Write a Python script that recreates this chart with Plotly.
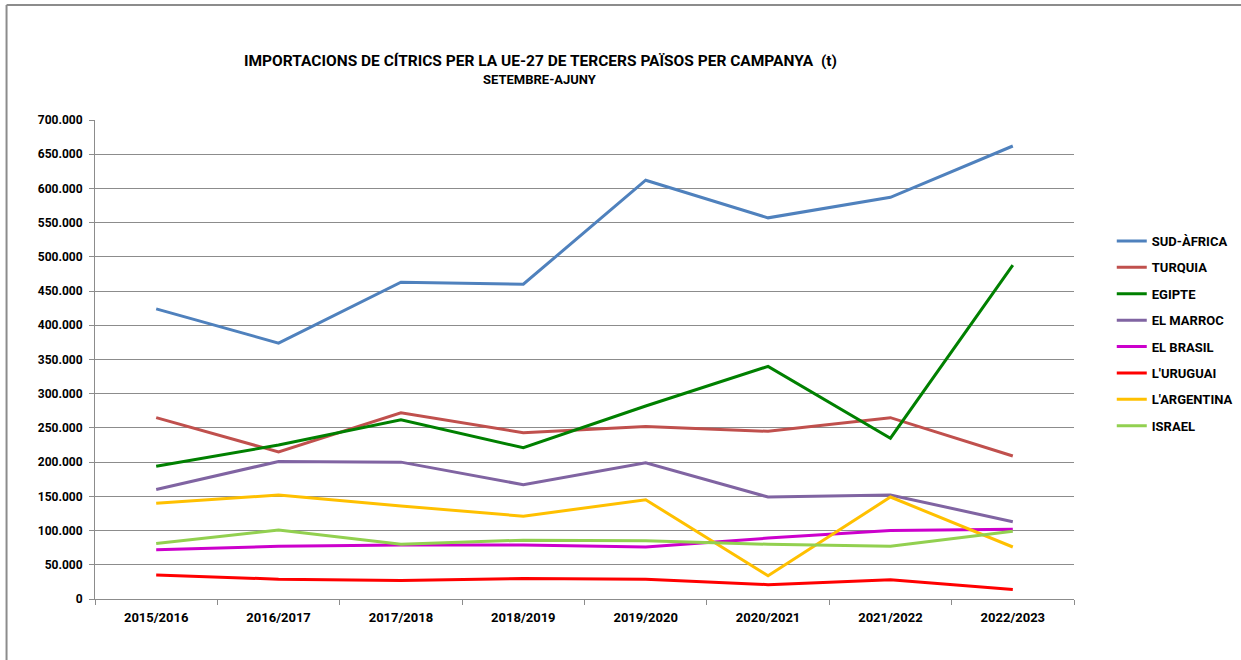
import plotly.graph_objects as go

# Campaigns (September-June)
campanyes = ['2015/2016', '2016/2017', '2017/2018', '2018/2019',
             '2019/2020', '2020/2021', '2021/2022', '2022/2023']

# Imports in tonnes
sud_africa = [424000, 374000, 463000, 460000, 612000, 557000, 587000, 662000]
turquia = [265000, 215000, 272000, 243000, 252000, 245000, 265000, 209000]
egipte = [194000, 225000, 262000, 221000, 282000, 340000, 235000, 488000]
el_marroc = [160000, 201000, 200000, 167000, 199000, 149000, 152000, 113000]
el_brasil = [72000, 77000, 79000, 79000, 76000, 89000, 100000, 102000]
l_uruguai = [35000, 29000, 27000, 30000, 29000, 21000, 28000, 14000]
l_argentina = [140000, 152000, 136000, 121000, 145000, 34000, 149000, 76000]
israel = [81000, 101000, 80000, 86000, 85000, 80000, 77000, 99000]

series = [
    ('SUD-ÀFRICA', sud_africa, '#4F81BD'),
    ('TURQUIA', turquia, '#C0504D'),
    ('EGIPTE', egipte, '#008000'),
    ('EL MARROC', el_marroc, '#8064A2'),
    ('EL BRASIL', el_brasil, '#CC00CC'),
    ("L'URUGUAI", l_uruguai, '#FF0000'),
    ("L'ARGENTINA", l_argentina, '#FFC000'),
    ('ISRAEL', israel, '#92D050'),
]

font_family = 'Liberation Sans Narrow, Arial Narrow, Roboto, sans-serif'

# plot area in pixels
L, R, T, B = 95, 1080, 120, 599
W = R - L
H = B - T


def px(x):
    return (x - L) / W


def py(y):
    return (B - y) / H


fig = go.Figure()
for name, vals, color in series:
    fig.add_trace(go.Scatter(
        x=campanyes, y=vals, name='<b>' + name + '</b>', mode='lines',
        line=dict(color=color, width=3),
        legendgroup=name,
    ))

# Title
fig.add_annotation(
    x=px(543), y=py(50), xref='paper', yref='paper',
    text='<b>IMPORTACIONS DE CÍTRICS PER LA UE-27 DE TERCERS PAÏSOS PER CAMPANYA  (t)</b>',
    showarrow=False, font=dict(size=15.5, color='black', family=font_family),
)
fig.add_annotation(
    x=px(543), y=py(70), xref='paper', yref='paper',
    text='<b>SETEMBRE-AJUNY</b>',
    showarrow=False, font=dict(size=13, color='black', family=font_family),
)

# Outer frame (top and left edges)
fig.add_shape(type='line', xref='paper', yref='paper',
              x0=px(6), x1=px(1260), y0=py(5), y1=py(5),
              line=dict(color='#8c8c8c', width=2))
fig.add_shape(type='line', xref='paper', yref='paper',
              x0=px(6), x1=px(6), y0=py(5), y1=py(662),
              line=dict(color='#8c8c8c', width=2))

fig.update_layout(
    width=1250, height=660,
    margin=dict(l=L, r=1250 - R, t=T, b=660 - B),
    plot_bgcolor='white', paper_bgcolor='white',
    separators=',.',
    font=dict(family=font_family, color='black'),
    showlegend=True,
    legend=dict(
        x=px(1118), y=py(226), xanchor='left', yanchor='top',
        font=dict(size=13, family=font_family, color='black'),
        tracegroupgap=6.5, itemwidth=30,
    ),
    xaxis=dict(
        type='category', range=[-0.5, 7.5], tickson='boundaries',
        ticks='outside', ticklen=5,
        tickcolor='#8c8c8c', showline=True, linecolor='#8c8c8c', linewidth=1,
        showgrid=False, tickfont=dict(size=13, family=font_family),
        ticklabelstandoff=6, tickprefix='<b>', ticksuffix='</b>',
    ),
    yaxis=dict(
        range=[0, 700000], dtick=50000, tickformat=',d',
        ticks='outside', ticklen=5, tickcolor='#8c8c8c',
        showline=True, linecolor='#8c8c8c', linewidth=1,
        showgrid=True, gridcolor='#8c8c8c', gridwidth=1,
        zeroline=False, tickfont=dict(size=12, family=font_family),
        tickprefix='<b>', ticksuffix='</b>', ticklabelstandoff=4,
    ),
)

fig.write_html('out.html', config={'displayModeBar': False},
               post_script="document.body.style.margin='0';")
